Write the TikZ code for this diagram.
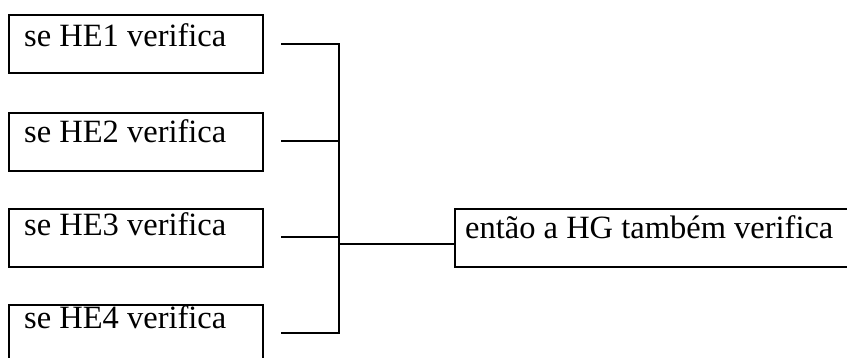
\documentclass[tikz,border=0pt]{standalone}
\usepackage{fontspec}
\setmainfont{Liberation Serif}
\begin{document}
\begin{tikzpicture}[x=1pt,y=-1pt,
  box/.style={draw, line width=1.8pt, anchor=north west, inner sep=0pt, minimum width=254pt, minimum height=58pt},
  wire/.style={line width=1.8pt},
  lbl/.style={anchor=base west, inner sep=0pt, font=\fontsize{32.5}{32.5}\selectfont}]
\useasboundingbox (0,0) rectangle (847,357);
\clip (0,0) rectangle (847,357);
\node[box] (b1) at (8,14) {};
\node[box] (b2) at (8,112) {};
\node[box] (b3) at (8,208) {};
\node[box] (b4) at (8,304) {};
\node[box, minimum width=420pt] (hg) at (454,208) {};
\node[lbl] (t1) at (24,46) {se HE1 verifica};
\node[lbl] (t2) at (24,142) {se HE2 verifica};
\node[lbl] (t3) at (24,235) {se HE3 verifica};
\node[lbl] (t4) at (24,328) {se HE4 verifica};
\node[lbl] (t5) at (465,238) {então a HG também verifica};
\coordinate (s1) at (281,44);
\coordinate (s2) at (281,141);
\coordinate (s3) at (281,237);
\coordinate (s4) at (281,333);
\coordinate (j1) at (339,44);
\coordinate (j2) at (339,141);
\coordinate (j3) at (339,237);
\coordinate (j4) at (339,333);
\coordinate (jm) at (339,244);
\draw[wire] (s1) -- (j1) -- (j4) -- (s4);
\draw[wire] (s2) -- (j2);
\draw[wire] (s3) -- (j3);
\draw[wire] (jm) -- (hg.west |- jm);
\end{tikzpicture}
\end{document}
